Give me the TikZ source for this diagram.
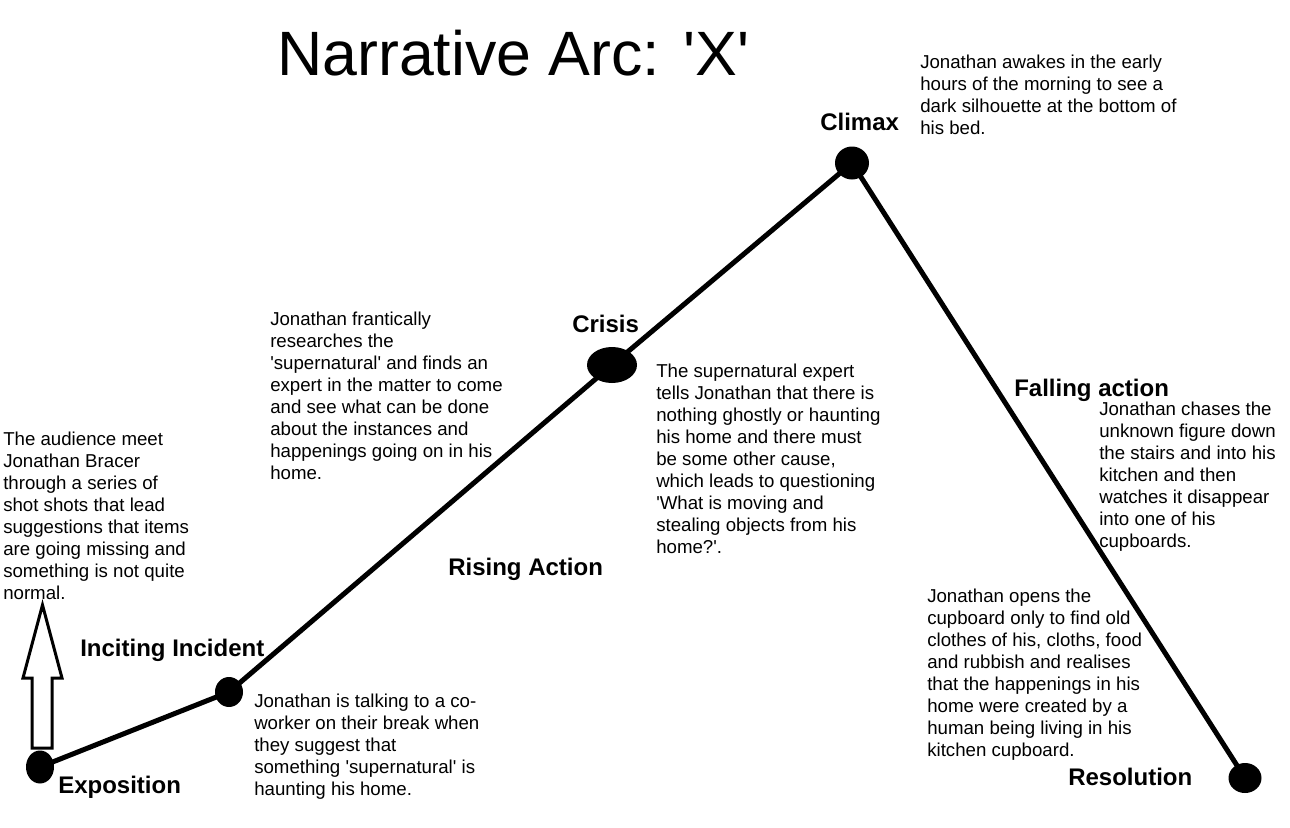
\documentclass[tikz,border=0pt]{standalone}
\usepackage{fontspec}
\newfontfamily\arial{Liberation Sans}
\usetikzlibrary{shapes.geometric}
\tikzset{
  body/.style={anchor=north west, inner sep=0pt, align=left, font=\arial\fontsize{14}{16.5}\selectfont},
  head/.style={anchor=base west, inner sep=0pt, font=\arial\bfseries\fontsize{18}{21}\selectfont},
  dot/.style={ellipse, fill=black, draw=none, inner sep=0pt},
  arc/.style={line width=3.75pt, line cap=round},
}
\begin{document}
\begin{tikzpicture}[x=0.75pt, y=-0.75pt]
\useasboundingbox (0,0) rectangle (1290,828);
\fill[white] (0,0) rectangle (1290,828);

% title
\node[anchor=base west, inner sep=0pt, font=\arial\fontsize{47}{56}\selectfont] (title) at (277,75) {Narrative Arc: 'X'};

% dots
\node[dot, minimum width=21pt, minimum height=24.75pt] (expo) at (40,767) {};
\node[dot, minimum width=21pt, minimum height=22.5pt] (inc) at (229,692) {};
\node[dot, minimum width=37.5pt, minimum height=27pt] (cri) at (612,365) {};
\node[dot, minimum width=25.5pt, minimum height=24.75pt] (cli) at (852,163) {};
\node[dot, minimum width=24.75pt, minimum height=22.5pt] (res) at (1245,778) {};

% arc
\draw[arc] (expo.center) -- (inc.center) -- (cri.center) -- (cli.center) -- (res.center);

% hollow arrow
\draw[line width=2.25pt, fill=white, line join=miter]
  (32,748) -- (32,678) -- (23,678) -- (42.5,605) -- (62,678) -- (52,678) -- (52,748) -- cycle;

% headings
\node[head] (hexpo) at (58,793) {Exposition};
\node[head] (hinc) at (80,656) {Inciting Incident};
\node[head] (hris) at (448,575) {Rising Action};
\node[head] (hcri) at (572,332) {Crisis};
\node[head] (hcli) at (820,130) {Climax};
\node[head] (hfal) at (1014,396) {Falling action};
\node[head] (hres) at (1068,785) {Resolution};

% text blocks
\node[body] (texpo) at (3,431.6) {The audience meet\\Jonathan Bracer\\through a series of\\shot shots that lead\\suggestions that items\\are going missing and\\something is not quite\\normal.};
\node[body] (tinc) at (254,693.6) {Jonathan is talking to a co-\\worker on their break when\\they suggest that\\something 'supernatural' is\\haunting his home.};
\node[body] (tris) at (270,311.6) {Jonathan frantically\\researches the\\'supernatural' and finds an\\expert in the matter to come\\and see what can be done\\about the instances and\\happenings going on in his\\home.};
\node[body] (tcri) at (656,363.6) {The supernatural expert\\tells Jonathan that there is\\nothing ghostly or haunting\\his home and there must\\be some other cause,\\which leads to questioning\\'What is moving and\\stealing objects from his\\home?'.};
\node[body] (tcli) at (920,54.6) {Jonathan awakes in the early\\hours of the morning to see a\\dark silhouette at the bottom of\\his bed.};
\node[body] (tfal) at (1099,401.6) {Jonathan chases the\\unknown figure down\\the stairs and into his\\kitchen and then\\watches it disappear\\into one of his\\cupboards.};
\node[body] (tres) at (927,588.6) {Jonathan opens the\\cupboard only to find old\\clothes of his, cloths, food\\and rubbish and realises\\that the happenings in his\\home were created by a\\human being living in his\\kitchen cupboard.};
\end{tikzpicture}
\end{document}
